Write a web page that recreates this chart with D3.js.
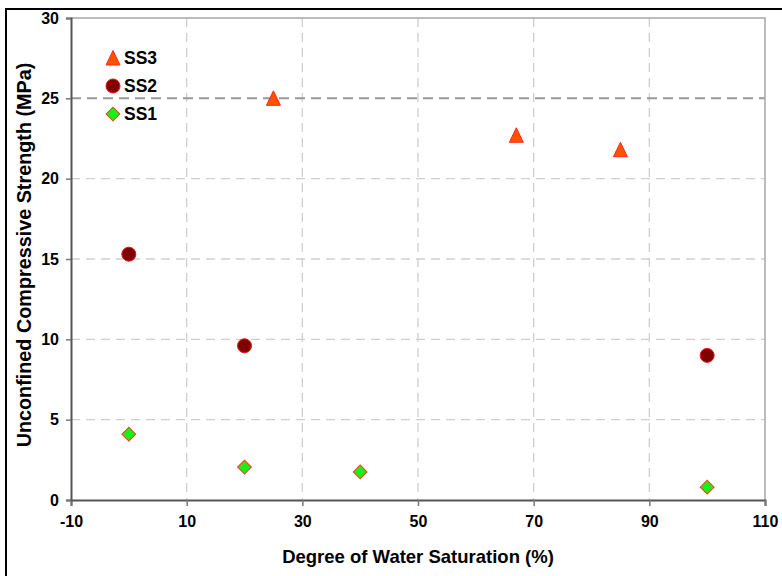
<!DOCTYPE html>
<html>
<head>
<meta charset="utf-8">
<script src="https://cdn.jsdelivr.net/npm/d3@7"></script>
<style>
  body { margin: 0; background: #fff; }
  svg { display: block; font-family: "Liberation Sans", Arial, sans-serif; }
</style>
</head>
<body>
<div id="chart"></div>
<script>
// Data
var ss3X = [25, 67, 85];
var ss3Y = [25, 22.7, 21.8];
var ss2X = [0, 20, 100];
var ss2Y = [15.3, 9.6, 9.0];
var ss1X = [0, 20, 40, 100];
var ss1Y = [4.1, 2.05, 1.75, 0.8];
var xTicks = [-10, 10, 30, 50, 70, 90, 110];
var yTicks = [0, 5, 10, 15, 20, 25, 30];
var seriesNames = ["SS3", "SS2", "SS1"];

var W = 782, H = 576;
var margin = {top: 18, right: 17, bottom: 76, left: 71};
var w = W - margin.left - margin.right,
    h = H - margin.top - margin.bottom;

var svg = d3.select("#chart").append("svg")
  .attr("width", W).attr("height", H);

// outer frame (cut off on right/bottom)
svg.append("path")
  .attr("d", "M6,576 L6,9 L782,9")
  .attr("fill", "none").attr("stroke", "#000").attr("stroke-width", 2);

var g = svg.append("g")
  .attr("transform", "translate(" + margin.left + "," + margin.top + ")");

var x = d3.scaleLinear().domain([-10, 110]).range([0, w]);
var y = d3.scaleLinear().domain([0, 30]).range([h, 0]);

// grid
g.selectAll(".vgrid").data(xTicks.slice(1, -1)).enter().append("line")
  .attr("x1", d => x(d)).attr("x2", d => x(d))
  .attr("y1", 0).attr("y2", h)
  .attr("stroke", "#cfcfcf").attr("stroke-width", 1.3)
  .attr("stroke-dasharray", "9,6");
g.selectAll(".hgrid").data(yTicks.slice(1, -2)).enter().append("line")
  .attr("x1", 0).attr("x2", w)
  .attr("y1", d => y(d)).attr("y2", d => y(d))
  .attr("stroke", "#cfcfcf").attr("stroke-width", 1.3)
  .attr("stroke-dasharray", "9,6");
// reference line at 25
g.append("line")
  .attr("x1", 0).attr("x2", w)
  .attr("y1", y(25)).attr("y2", y(25))
  .attr("stroke", "#999").attr("stroke-width", 2)
  .attr("stroke-dasharray", "10,6");

// top/right frame
g.append("path")
  .attr("d", "M0,0 L" + w + ",0 L" + w + "," + h)
  .attr("fill", "none").attr("stroke", "#a8a8a8").attr("stroke-width", 1.5);

// axes
var xAxis = g.append("g").attr("transform", "translate(0," + h + ")")
  .call(d3.axisBottom(x).tickValues(xTicks).tickFormat(d => String(d))
    .tickSize(6).tickPadding(10));
var yAxis = g.append("g")
  .call(d3.axisLeft(y).tickValues(yTicks).tickFormat(d => String(d))
    .tickSize(5).tickPadding(7));
[xAxis, yAxis].forEach(function(a) {
  a.select(".domain").attr("stroke", "#555").attr("stroke-width", 2);
  a.selectAll(".tick line").attr("stroke", "#777").attr("stroke-width", 1.5);
  a.selectAll("text").attr("fill", "#000")
    .style("font-size", "16px").style("font-weight", "bold")
    .style("font-family", "'Liberation Sans', Arial, sans-serif");
});

// axis titles
svg.append("text")
  .attr("x", 418).attr("y", 563)
  .attr("text-anchor", "middle")
  .style("font-size", "18.5px").style("font-weight", "bold")
  .text("Degree of Water Saturation (%)");
svg.append("text")
  .attr("transform", "translate(31,255) rotate(-90)")
  .attr("text-anchor", "middle")
  .style("font-size", "19.8px").style("font-weight", "bold")
  .text("Unconfined Compressive Strength (MPa)");

// markers
var dia = d3.symbol().type(d3.symbolSquare).size(95);

function drawTri(sel, cx, cy) {
  sel.append("path").attr("d", "M0,-7.5L7,7L-7,7Z")
    .attr("transform", "translate(" + cx + "," + cy + ")")
    .attr("fill", "#ff5200").attr("stroke", "#ff2a1a").attr("stroke-width", 1);
}
function drawCirc(sel, cx, cy) {
  sel.append("circle").attr("cx", cx).attr("cy", cy).attr("r", 7)
    .attr("fill", "#800000").attr("stroke", "#ee1111").attr("stroke-width", 1);
}
function drawDia(sel, cx, cy) {
  sel.append("path").attr("d", dia)
    .attr("transform", "translate(" + cx + "," + cy + ") rotate(45)")
    .attr("fill", "#19f019").attr("stroke", "#ff3a1a").attr("stroke-width", 1);
}

ss3X.forEach(function(d, i) { drawTri(g, x(d), y(ss3Y[i])); });
ss2X.forEach(function(d, i) { drawCirc(g, x(d), y(ss2Y[i])); });
ss1X.forEach(function(d, i) { drawDia(g, x(d), y(ss1Y[i])); });

// legend
var leg = svg.append("g").attr("transform", "translate(113,58)");
var drawers = [drawTri, drawCirc, drawDia];
seriesNames.forEach(function(n, i) {
  var ly = i * 28;
  drawers[i](leg, 0, ly);
  leg.append("text").attr("x", 11).attr("y", ly).attr("dy", "0.36em")
    .style("font-size", "17.5px").style("font-weight", "bold")
    .text(n);
});
</script>
</body>
</html>
